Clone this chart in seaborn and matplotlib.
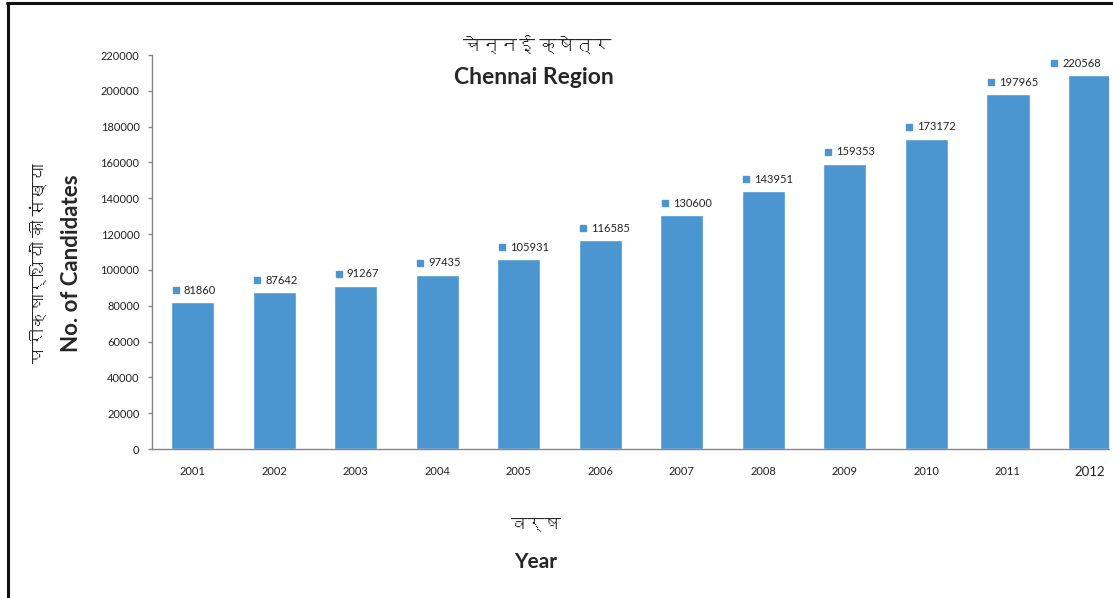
import matplotlib
matplotlib.use("Agg")
import matplotlib.pyplot as plt
import matplotlib.transforms as mtrans
from matplotlib import font_manager
from matplotlib.ft2font import FT2Font
from matplotlib.lines import Line2D
import seaborn as sns

# data
years = ['2001', '2002', '2003', '2004', '2005', '2006',
         '2007', '2008', '2009', '2010', '2011', '2012']
candidates = [81860, 87642, 91267, 97435, 105931, 116585,
              130600, 143951, 159353, 173172, 197965, 220568]
# bar heights as drawn (the 2012 bar is shorter than its label)
bar_heights = [81860, 87642, 91267, 97435, 105931, 116585,
               130600, 143951, 159353, 173172, 197965, 208800]
y_ticks = [0, 20000, 40000, 60000, 80000, 100000, 120000,
           140000, 160000, 180000, 200000, 220000]

title_hi = 'चेन्नई क्षेत्र'
title_en = 'Chennai Region'
ylabel_hi = 'परीक्षार्थियों की संख्या'
ylabel_en = 'No. of Candidates'
xlabel_hi = 'वर्ष'
xlabel_en = 'Year'

BAR = '#4b96d1'
GREY = '#868686'


def find_devanagari_fonts():
    # look for any installed font that has Devanagari glyphs
    names = []
    for f in font_manager.fontManager.ttflist:
        try:
            cmap = FT2Font(f.fname).get_charmap()
        except Exception:
            continue
        if 0x0915 in cmap and f.name not in names:
            names.append(f.name)
    return names


sns.set_style('white')
deva = find_devanagari_fonts()
print('devanagari fonts:', deva)
plt.rcParams['font.family'] = ['Lato'] + deva + ['DejaVu Sans']

fig = plt.figure(figsize=(11.13, 5.98), dpi=100)
W, H = 1113, 598
ax = fig.add_axes([152 / W, 1 - 449 / H, (1109 - 152) / W, (449 - 55) / H])

sns.barplot(x=years, y=bar_heights, color=BAR, width=0.53, saturation=1, ax=ax)

xmax = 11.24
ax.set_xlim(-0.5, xmax)
ax.set_ylim(0, 220000)
ax.set_yticks(y_ticks)
ax.set_yticklabels([str(v) for v in y_ticks], fontsize=8, color='#222222')

ax.set_xticks(range(len(years)))
ax.set_xticklabels(years, fontsize=8, color='#222222')
ax.get_xticklabels()[-1].set_fontsize(9.5)
boundaries = [i - 0.5 for i in range(len(years))] + [xmax]
ax.set_xticks(boundaries, minor=True)
ax.tick_params(axis='x', which='major', length=0, pad=12)
ax.tick_params(axis='x', which='minor', length=4, width=1, color=GREY, direction='out')
ax.tick_params(axis='y', length=3, width=1, color=GREY, direction='out', pad=6, left=True)

for s in ['top', 'right']:
    ax.spines[s].set_visible(False)
for s in ['left', 'bottom']:
    ax.spines[s].set_color(GREY)
    ax.spines[s].set_linewidth(1)
ax.set_xlabel('')
ax.set_ylabel('')

# data labels: small square key + value (last one pulled left to stay inside)
for i, (h, v) in enumerate(zip(bar_heights, candidates)):
    dx = -35 if i == len(years) - 1 else -17
    mark_tr = mtrans.offset_copy(ax.transData, fig=fig, x=dx, y=12, units='dots')
    text_tr = mtrans.offset_copy(ax.transData, fig=fig, x=dx + 8, y=12, units='dots')
    ax.plot(i, h, marker='s', markersize=5, color=BAR, transform=mark_tr, clip_on=False)
    ax.text(i, h, str(v), fontsize=8, color='#222222', ha='left', va='center',
            transform=text_tr, clip_on=False)

# titles and axis labels
fig.text(537 / W, 1 - 45 / H, title_hi, ha='center', va='center', fontsize=13, fontweight='bold')
fig.text(534 / W, 1 - 77 / H, title_en, ha='center', va='center', fontsize=16.5, fontweight='bold')
fig.text(39 / W, 1 - 263 / H, ylabel_hi, ha='center', va='center', rotation=90, fontsize=12.5, fontweight='bold')
fig.text(71 / W, 1 - 263 / H, ylabel_en, ha='center', va='center', rotation=90, fontsize=16, fontweight='bold')
fig.text(536 / W, 1 - 525 / H, xlabel_hi, ha='center', va='center', fontsize=12, fontweight='bold')
fig.text(536 / W, 1 - 562 / H, xlabel_en, ha='center', va='center', fontsize=15, fontweight='bold')

# frame lines around the picture (top and left)
fig.add_artist(Line2D([7 / W, 1], [1 - 3 / H, 1 - 3 / H], color='#111111', lw=2.2, transform=fig.transFigure))
fig.add_artist(Line2D([7.5 / W, 7.5 / W], [0, 1 - 3 / H], color='#111111', lw=2.2, transform=fig.transFigure))

fig.savefig('out.png', dpi=100)
